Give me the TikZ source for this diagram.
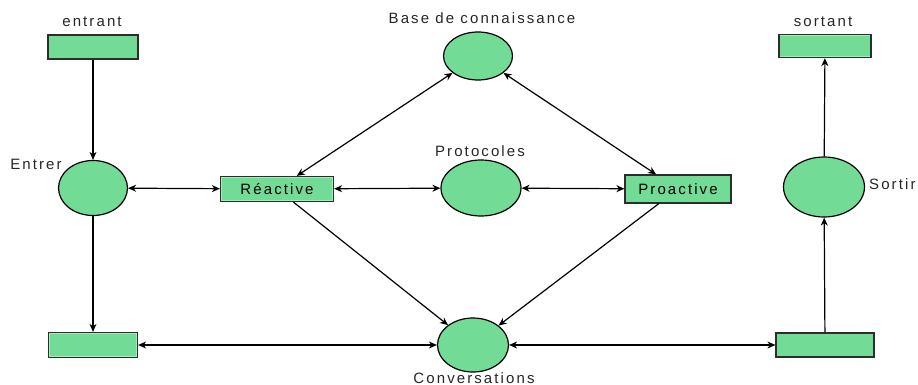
\documentclass[tikz,border=0pt]{standalone}
\usepackage{fontspec}
\setmainfont{Liberation Sans}[LetterSpace=14]
\usetikzlibrary{shapes.geometric,arrows.meta}
\definecolor{petri}{RGB}{114,220,150}
\definecolor{petrilight}{RGB}{160,238,186}
\definecolor{rim}{RGB}{45,45,45}
\tikzset{
  every node/.style={font=\fontsize{15}{17}\selectfont},
  trans/.style={rectangle, fill=petri, draw=rim, line width=1.2pt, inner sep=0pt,
    path picture={\draw[petrilight, line width=2.5pt]
      (path picture bounding box.south west) rectangle (path picture bounding box.north east);}},
  place/.style={ellipse, fill=petri, draw=black, line width=1.2pt, inner sep=0pt},
  lbl/.style={inner sep=0pt, text=black!85},
  tip/.style={-{Stealth[length=8pt,width=7pt,inset=2.5pt]}},
  bitip/.style={{Stealth[length=8pt,width=7pt,inset=2.5pt]}-{Stealth[length=8pt,width=7pt,inset=2.5pt]}},
  arc/.style={line width=1.2pt, black}
}
\begin{document}
\begin{tikzpicture}[x=1pt, y=-1pt]
\useasboundingbox (0,0) rectangle (918,385);

% transitions
\node[trans, minimum width=90pt, minimum height=24pt] (in)   at (93,47) {};
\node[trans, minimum width=92pt, minimum height=23pt] (out)  at (825,46) {};
\node[trans, minimum width=113pt, minimum height=25pt] (rea) at (277,189) {Réactive};
\node[trans, minimum width=106pt, minimum height=28pt] (pro) at (678,189) {Proactive};
\node[trans, minimum width=89pt, minimum height=25pt] (bl)   at (93,345) {};
\node[trans, minimum width=98pt, minimum height=24pt] (br)   at (825,345) {};

% places
\node[place, minimum width=69pt, minimum height=55pt] (ent)  at (93,188) {};
\node[place, minimum width=69pt, minimum height=48pt] (base) at (478,56) {};
\node[place, minimum width=80pt, minimum height=56pt] (prot) at (481,188) {};
\node[place, minimum width=81pt, minimum height=60pt] (sor)  at (824,187) {};
\node[place, minimum width=71pt, minimum height=54pt] (conv) at (473,345) {};

% labels
\node[lbl] (lin)   at (92,22)  {entrant};
\node[lbl] (lout)  at (823,22) {sortant};
\node[lbl] (lbase) at (482,18) {Base de connaissance};
\node[lbl] (lprot) at (480,151) {Protocoles};
\node[lbl] (lent)  at (36,164) {Entrer};
\node[lbl, anchor=west] (lsor) at (869,184) {Sortir};
\node[lbl] (lconv) at (474,378) {Conversations};

% arcs
\draw[arc, tip]   (in) -- (ent);
\draw[arc, tip]   (ent) -- (bl);
\draw[arc, bitip] (ent) -- (rea);
\draw[arc, bitip] (rea) -- (prot);
\draw[arc, bitip] (prot) -- (pro);
\draw[arc, bitip] (rea) -- (base);
\draw[arc, bitip] (base) -- (pro);
\draw[arc, tip]   (rea) -- (conv);
\draw[arc, tip]   (pro) -- (conv);
\draw[arc, bitip] (bl) -- (conv);
\draw[arc, bitip] (conv) -- (br);
\draw[arc, tip]   (br) -- (sor);
\draw[arc, tip]   (sor) -- (out);
\end{tikzpicture}
\end{document}
